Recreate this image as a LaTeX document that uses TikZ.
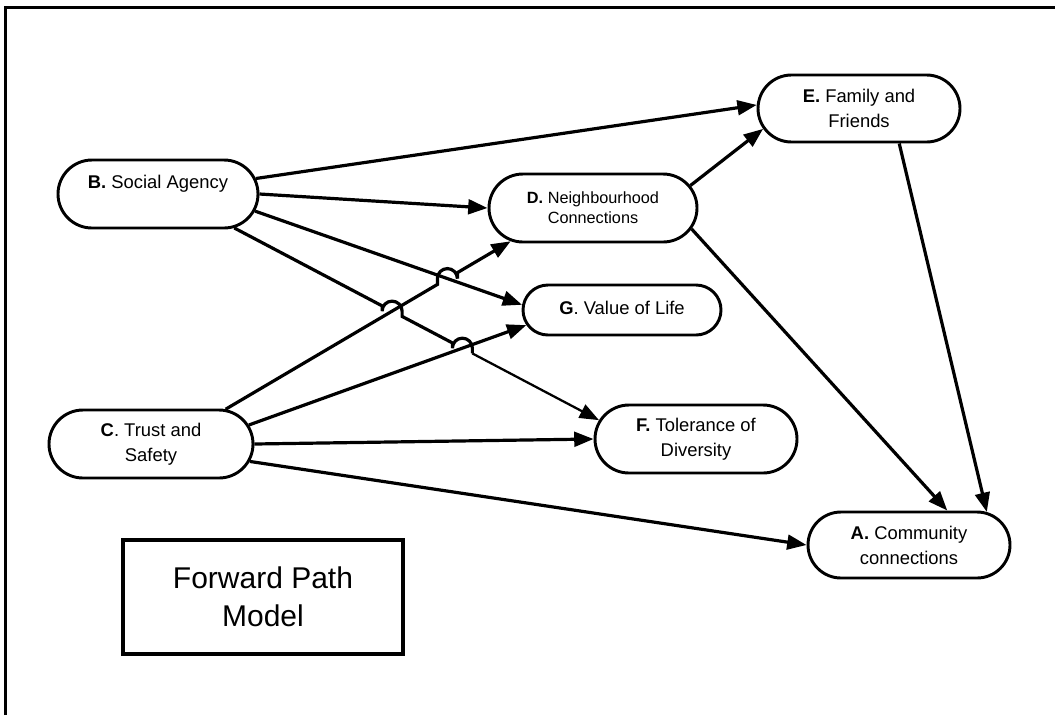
\documentclass[tikz,border=0pt]{standalone}
\usepackage{fontspec}
\setmainfont{Liberation Sans}
\usetikzlibrary{arrows.meta,shapes.misc,calc}
\begin{document}
\begin{tikzpicture}[x=0.75pt,y=0.75pt,
  pill/.style={rounded rectangle, draw, line width=2.2pt, inner sep=0pt, align=center,
    font=\fontsize{13.8}{18.75}\selectfont},
  conn/.style={line width=2.4pt, -{Triangle[length=14.5pt,width=11pt]}},
  plain/.style={line width=2.4pt},
  thinconn/.style={line width=1.7pt, -{Triangle[length=14.5pt,width=11pt]}},
  frame/.style={line width=2.4pt}]
\useasboundingbox[fill=white] (0,0) rectangle (1055,-715);
% frame (only top and left edges visible)
\draw[frame] (5.3,-715) -- (5.3,-7.5) -- (1055,-7.5);

% nodes
\node[pill, minimum width=150pt, minimum height=51pt] (B) at (158,-194) {\textbf{B.} Social Agency\\\mbox{}};
\node[pill, minimum width=156pt, minimum height=51pt, font=\fontsize{12.2}{15}\selectfont] (D) at (593,-208) {\textbf{D.} Neighbourhood\\Connections};
\node[pill, minimum width=151.5pt, minimum height=50.25pt] (E) at (859,-108.5) {\textbf{E.} Family and\\Friends};
\node[pill, minimum width=151.5pt, minimum height=49.5pt] (A) at (909,-545) {\textbf{A.} Community\\connections};
\node[pill, minimum width=153pt, minimum height=51pt] (C) at (151,-444) {\textbf{C}. Trust and\\Safety};
\node[pill, minimum width=148.5pt, minimum height=37.5pt] (G) at (622,-310) {\raisebox{3pt}{\textbf{G}. Value of Life}};
\node[pill, minimum width=151.5pt, minimum height=51pt] (F) at (696,-439) {\textbf{F.} Tolerance of\\Diversity};
\node[draw, line width=2.4pt, minimum width=210pt, minimum height=85.5pt, inner sep=0pt, align=center,
  font=\fontsize{22.5}{28.5}\selectfont] (M) at (263,-597) {Forward Path\\Model};

% connector end points
\coordinate (beS) at (B.9);   \coordinate (beE) at (E.178);
\coordinate (bgS) at (B.-10); \coordinate (bgE) at (G.177);
\coordinate (bfS) at (B.-24); \coordinate (bfE) at (F.169);
\coordinate (cdS) at (C.25);  \coordinate (cdE) at (D.202);
\coordinate (cgS) at (C.11);  \coordinate (cgE) at (G.189);
\coordinate (caS) at (C.-10);
\coordinate (deS) at (D.13);  \coordinate (deE) at (E.192);
\coordinate (daS) at (D.-12); \coordinate (daE) at (A.42);
\coordinate (eaS) at (E.-41); \coordinate (eaE) at (A.23);

% crossings
\coordinate (X1) at (intersection of cdS--cdE and bgS--bgE);
\coordinate (X2) at (intersection of bfS--bfE and cdS--cdE);
\coordinate (X3) at (intersection of bfS--bfE and cgS--cgE);

% straight connectors
\draw[conn] (beS) -- (beE);
\draw[conn] (B.east) -- (D.west);
\draw[conn] (bgS) -- (bgE);
\draw[conn] (cgS) -- (cgE);
\draw[conn] (C.east) -- (F.west);
\draw[conn] (caS) -- (A.west);
\draw[conn] (deS) -- (deE);
\draw[conn] (daS) -- (daE);
\draw[conn] (eaS) -- (eaE);

% C -> D with a jump over B -> G
\draw[conn] let \p1=(cdS), \p2=(cdE), \p3=(X1), \n1={(\y2-\y1)/(\x2-\x1)} in
  (cdS) -- ({\x3-7.5pt},{\y1+\n1*(\x3-7.5pt-\x1)}) -- ({\x3-7.5pt},\y3)
  arc[start angle=180,end angle=0,radius=7.5pt]
  -- ({\x3+7.5pt},{\y1+\n1*(\x3+7.5pt-\x1)}) -- (cdE);

% B -> F with jumps over C -> D and C -> G
\draw[plain] let \p1=(bfS), \p2=(bfE), \p3=(X2), \p4=(X3), \n1={(\y2-\y1)/(\x2-\x1)} in
  (bfS) -- ({\x3-7.5pt},{\y1+\n1*(\x3-7.5pt-\x1)}) -- ({\x3-7.5pt},\y3)
  arc[start angle=180,end angle=0,radius=7.5pt]
  -- ({\x3+7.5pt},{\y1+\n1*(\x3+7.5pt-\x1)})
  -- ({\x4-7.5pt},{\y1+\n1*(\x4-7.5pt-\x1)}) -- ({\x4-7.5pt},\y4)
  arc[start angle=180,end angle=0,radius=7.5pt]
  -- ({\x4+7.5pt},{\y1+\n1*(\x4+7.5pt-\x1)}) coordinate (R3);
\draw[thinconn] (R3) -- (bfE);
\end{tikzpicture}
\end{document}
